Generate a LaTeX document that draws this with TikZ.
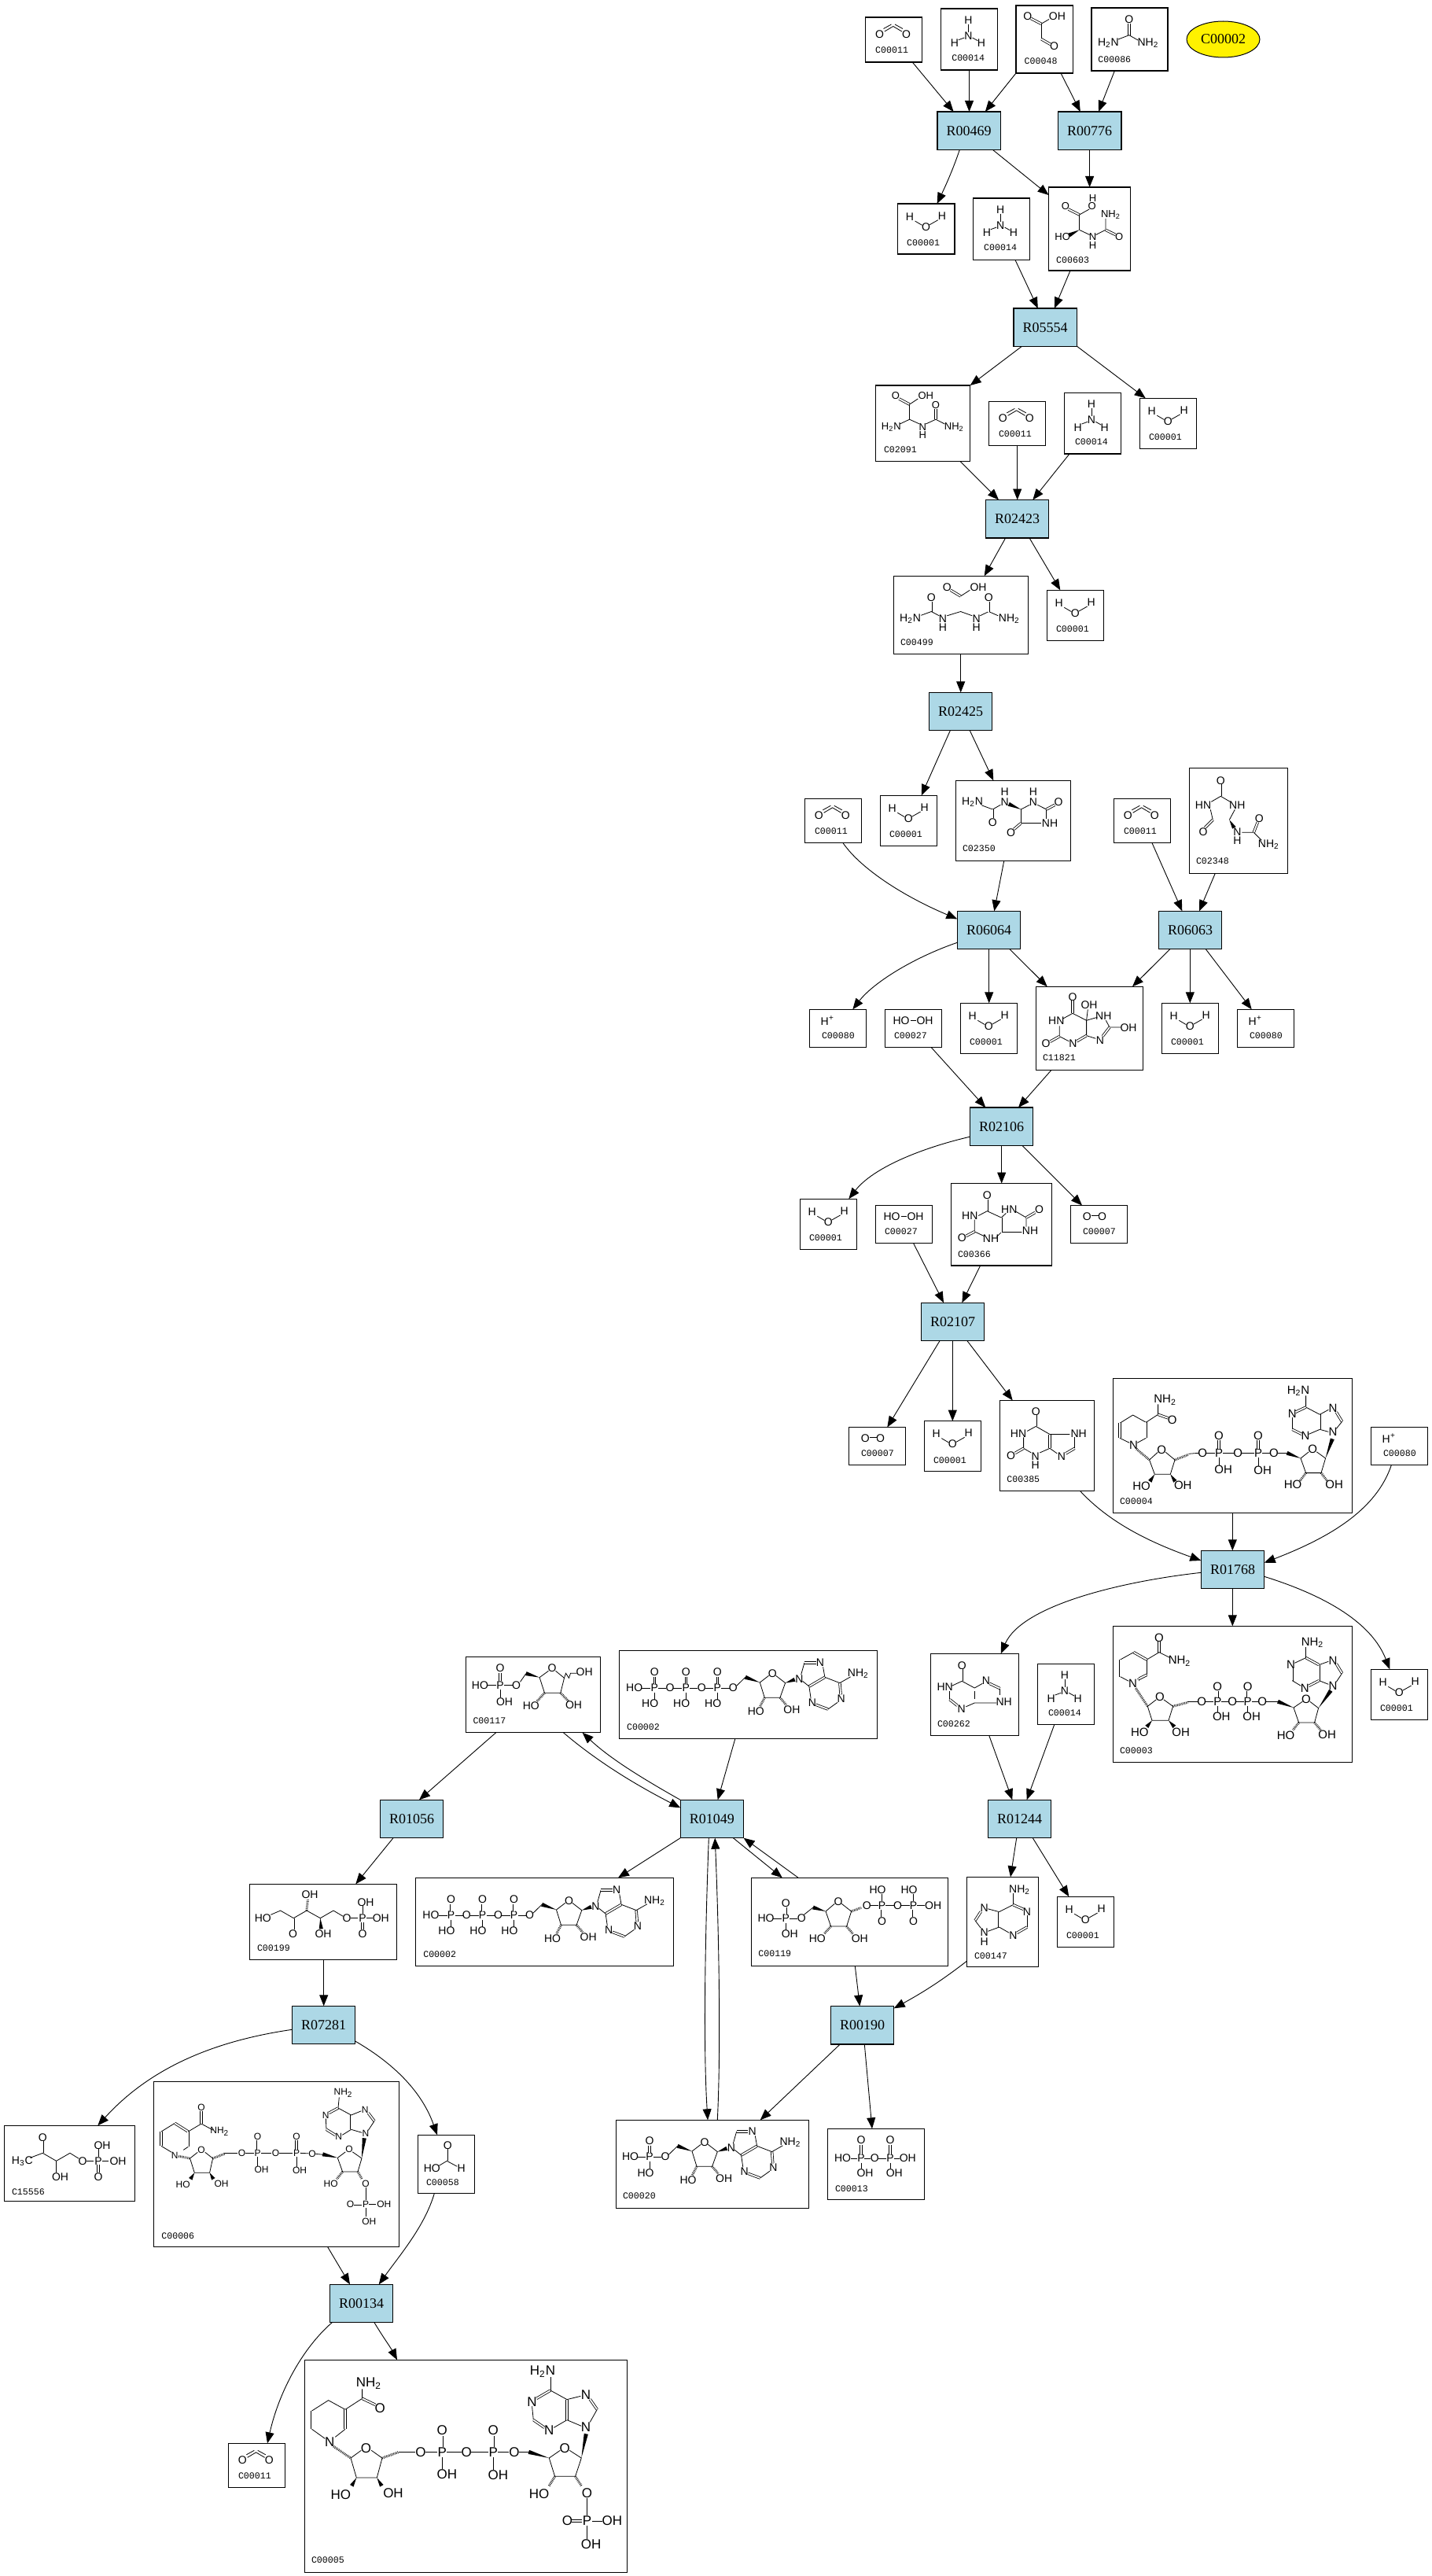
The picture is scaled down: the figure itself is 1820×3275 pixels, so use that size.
\documentclass[tikz,border=0pt]{standalone}
\usepackage{fontspec}
\setmainfont{Liberation Serif}
\setsansfont{Liberation Sans}
\newfontfamily\codef{Liberation Mono}
\usetikzlibrary{arrows.meta,calc,shapes.geometric}
\newcount\atomc
\newcommand\asize[1]{\def\afont{\fontsize{#1}{#1}\selectfont\sffamily}}
\asize{7}
\def\mg{5.5}
\tikzset{
  cbox/.style={draw=black,line width=.65pt,fill=white,inner sep=0pt,outer sep=0pt},
  rbox/.style={draw=black,line width=.65pt,fill=rcol,inner sep=0pt,outer sep=0pt,minimum width=40.2pt,minimum height=24.2pt,font=\fontsize{9}{9}\selectfont},
  edge/.style={draw=black,line width=.45pt,-{Stealth[inset=0pt,length=7pt,width=5.5pt]}},
  atom/.style={inner sep=0pt,font=\afont},
  codel/.style={inner sep=0pt,anchor=west,font=\codef\fontsize{5.8}{5.8}\selectfont},
  bond/.style={draw=black,line width=.4pt},
  dbond/.style={draw=black,line width=.4pt,double=white,double distance=.9pt},
  hashb/.style={draw=black,line width=1.5pt,dash pattern=on .35pt off .6pt},
}
\definecolor{rcol}{HTML}{ADD8E6}
\newcommand\mAt[3]{\global\advance\atomc 1 \node[atom] (at\the\atomc) at ({#1},{#2}) {#3};}
\newcommand\mL[3]{\global\advance\atomc 1 \node[codel] (at\the\atomc) at (#1,#2) {#3};}
\newcommand\mB[1]{\draw[bond] #1;}
\newcommand\mD[1]{\draw[dbond] #1;}
\newcommand\mH[1]{\draw[hashb] #1;}
\newcommand\mW[4]{\fill[black] (#1,#2) -- ($(#3,#4)!1.3pt!90:(#1,#2)$) -- ($(#3,#4)!1.3pt!-90:(#1,#2)$) -- cycle;}
\newcommand\mPh[6]{\mAt{#1}{#2}{P}\mAt{#1}{#2-#3}{O}\mD{({#1},{#2-#3+\mg})--({#1},{#2-\mg})}\mAt{#1+#5}{#2+#4}{#6}\mB{({#1},{#2+\mg})--({#1},{#2+#4-\mg})}}
\newcommand\two{\textsubscript{2}}
% small molecules
\newcommand\mWater{\mL{11.3}{49.7}{C00001}\mAt{15.3}{16.3}{H}\mAt{56.3}{15.3}{H}\mAt{36}{29.3}{O}\mB{(22,22)--(31,27.3)}\mB{(40.7,26.7)--(51.3,20.7)}}
\newcommand\mCOO{\mL{12.3}{41.7}{C00011}\mAt{18}{21.7}{O}\mAt{52}{21.7}{O}\mB{(24.3,18)--(35.3,11.5)--(46.3,18)}\mB{(23,14.5)--(33,9)}\mB{(37.5,9)--(47.5,14.5)}}
\newcommand\mNH{\mL{13.3}{62.7}{C00014}\mAt{34.7}{14.7}{H}\mAt{34.7}{34.7}{N}\mAt{17.3}{44}{H}\mAt{51.3}{44}{H}\mB{(34.7,19.7)--(34.7,29.7)}\mB{(22.3,39.7)--(29.7,37)}\mB{(40,37)--(46.7,40.7)}}
\newcommand\mHp{\mL{15.3}{33.3}{C00080}\mAt{19.3}{15.7}{H}\node[atom,font=\sffamily\fontsize{5}{5}\selectfont] (at\the\atomc p) at (27.7,11.7) {+};}
\newcommand\mHOOH{\mL{11.3}{33.2}{C00027}\mAt{20.7}{14.2}{HO}\mAt{50.7}{14.2}{OH}\mB{(33,14.2)--(40,14.2)}}
\newcommand\mOO{\mL{15.3}{33.2}{C00007}\mAt{21}{14.2}{O}\mAt{40.3}{14.2}{O}\mD{(26.3,14.2)--(35.3,14.2)}}
\newcommand\mGlx{\mL{10.3}{70.7}{C00048}\mAt{14.9}{13.3}{O}\mAt{52.4}{13.3}{OH}\mAt{48.6}{52}{O}\mD{(19,16.5)--(32.1,23.3)}\mB{(32.1,23.3)--(42,17.5)}\mB{(32.1,23.3)--(32.1,42.7)}\mD{(32.1,42.7)--(44,49.5)}}
\newcommand\mUrea{\mL{8}{65.7}{C00086}\mAt{47.8}{14.7}{O}\mAt{21.4}{44.7}{H\two N}\mAt{72}{44.7}{NH\two}\mD{(47.8,20)--(47.8,34.7)}\mB{(34,40)--(47.8,34.7)--(59,41)}}
\newcommand\mCsix{\asize{6.5}\mL{9.2}{92.7}{C00603}\mAt{55.9}{14}{H}\mAt{55.1}{24.3}{O}\mAt{21.4}{24.3}{O}\mAt{78.8}{35}{NH\two}\mAt{89.5}{62.7}{O}\mAt{17.6}{63.3}{HO}\mAt{55.9}{63.3}{N}\mAt{55.9}{74.3}{H}\mD{(25,28)--(39,35)}\mB{(39,35)--(51.5,28)}\mB{(39,35)--(39,54.3)}\mW{39}{54.3}{26}{61}\mB{(39,54.3)--(52,60.5)}\mB{(60,60.5)--(72.3,54.3)--(72.3,40)}\mD{(72.3,54.3)--(85,60.5)}}
\newcommand\mCtwoOneNine{\asize{6.5}\mL{10.3}{81.9}{C02091}\mAt{25.7}{13.4}{O}\mAt{64}{13.4}{OH}\mAt{76.7}{24.9}{O}\mAt{20}{52.8}{H\two N}\mAt{60}{52.8}{N}\mAt{60}{63.5}{H}\mAt{100}{52.8}{NH\two}\mD{(30,17)--(43.3,24.1)}\mB{(43.3,24.1)--(54,17)}\mB{(43.3,24.1)--(43.3,43.2)}\mB{(31,49)--(43.3,43.2)--(56,49)}\mB{(64,49)--(76.7,43.2)--(88,49)}\mD{(76.7,43.2)--(76.7,29.5)}}
\newcommand\mCfournine{\mL{8.3}{84.6}{C00499}\mAt{68}{14.5}{O}\mAt{107.7}{14.5}{OH}\mAt{48}{27.6}{O}\mAt{21.3}{54.7}{H\two N}\mAt{62.7}{54.7}{N}\mAt{62.7}{65.8}{H}\mAt{105.3}{54.7}{N}\mAt{105.3}{65.8}{H}\mAt{121}{27.6}{O}\mAt{147}{54.7}{NH\two}\mD{(72.5,18)--(85.3,25.6)}\mB{(85.3,25.6)--(97,18)}\mD{(48,33)--(48,45.2)}\mB{(35,50)--(48,45.2)--(58,50.5)}\mB{(68,50.5)--(85.3,45.2)--(100,50.5)}\mB{(110,50.5)--(121,45.2)--(133,50.5)}\mD{(121,33)--(121,45.2)}}
\newcommand\mCtwothree{\mL{8.3}{86.7}{C02350}\mAt{21.3}{27}{H\two N}\mAt{47}{53.7}{O}\mAt{62.3}{14.3}{H}\mAt{62.3}{27}{N}\mAt{98.7}{14.3}{H}\mAt{98.7}{27}{N}\mAt{130.7}{27.7}{O}\mAt{119.7}{54.3}{NH}\mAt{70.3}{66}{O}\mB{(33,31.5)--(47,36.7)--(57,31)}\mD{(47,36.7)--(47,48)}\mW{83}{36.7}{67.5}{30}\mB{(83,36.7)--(94,31)}\mB{(104,31)--(115.3,36.7)}\mD{(115.3,36.7)--(126,31)}\mB{(115.3,36.7)--(115.3,49)}\mB{(83,54.3)--(109,54.3)}\mB{(83,36.7)--(83,54.3)}\mD{(83,54.3)--(74,62)}}
\newcommand\mCtwofour{\mL{8.3}{118.7}{C02348}\mAt{40}{16}{O}\mAt{17.7}{47.7}{HN}\mAt{61}{47.7}{NH}\mAt{17.7}{81.3}{O}\mAt{61}{81.3}{N}\mAt{61}{92.3}{H}\mAt{89}{64.3}{O}\mAt{101}{97}{NH\two}\mD{(40,21)--(40,36)}\mB{(28,43)--(40,36)--(52,43)}\mB{(27,53)--(30,66)}\mD{(30,66)--(20,76)}\mB{(58,53)--(51,66)}\mW{51}{66}{57}{76}\mB{(67,82)--(82,82)--(92,92)}\mD{(82,82)--(87,69)}}
\newcommand\mConeone{\mL{8.3}{90.7}{C11821}\mAt{46.7}{13}{O}\mAt{67.7}{23.3}{OH}\mAt{86}{37.3}{NH}\mAt{117.7}{52.3}{OH}\mAt{81.7}{68.3}{N}\mAt{47}{72.3}{N}\mAt{12.7}{72.3}{O}\mAt{26}{43.3}{HN}\mD{(46.7,18)--(46.7,34)}\mB{(34,41)--(46.7,34)--(64.3,43)--(64.3,62.3)--(76,66)}\mB{(30,50)--(30,63.3)--(42,69.5)}\mD{(30,63.3)--(18,70)}\mD{(52,69.5)--(64.3,62.3)}\mB{(64.3,43)--(78,39)}\mB{(64.3,43)--(66,29)}\mB{(89,43)--(93.7,51.7)--(108,51.7)}\mD{(93.7,51.7)--(85,63)}}
\newcommand\mCthreesix{\mL{8.3}{89.8}{C00366}\mAt{46}{15.4}{O}\mAt{24}{41.5}{HN}\mAt{74}{33.2}{HN}\mAt{112.3}{33.2}{O}\mAt{100.7}{60}{NH}\mAt{14}{69.2}{O}\mAt{50.7}{70}{NH}\mD{(46,20)--(46,35.2)}\mB{(35,41)--(46,35.2)--(64,43.5)--(70,38)}\mB{(30,46)--(30,61.3)--(42,67)}\mD{(30,61.3)--(19,67)}\mB{(58,68)--(64,62)--(90,62)}\mD{(64,43.5)--(64,62)}\mB{(83,36)--(95.7,43.5)--(95.7,55)}\mD{(95.7,43.5)--(107,37)}}
\newcommand\mCthreeeight{\mL{8.7}{100.4}{C00385}\mAt{46}{14.6}{O}\mAt{23.7}{42.3}{HN}\mAt{14.3}{70}{O}\mAt{45.3}{70.8}{N}\mAt{45.3}{81.8}{H}\mAt{100.3}{42.3}{NH}\mAt{78.7}{70.8}{N}\mD{(46,19)--(46,33)}\mB{(35,39)--(46,33)--(63.7,43.1)--(89,43.1)}\mB{(30.3,47)--(30.3,60.9)--(40,66.5)}\mD{(30.3,60.9)--(19.5,67)}\mB{(51,66.5)--(63.7,60.9)--(73,67.5)}\mD{(63.7,43.1)--(63.7,60.9)}\mD{(84,67.5)--(95.3,60.9)}\mB{(95.3,60.9)--(95.3,47)}}
\newcommand\mCtwosix{\mL{8.3}{89.7}{C00262}\mAt{40}{15}{O}\mAt{18.3}{42.7}{HN}\mAt{39.3}{70.3}{N}\mAt{70.7}{34.3}{N}\mAt{93.3}{61}{NH}\mD{(40,20)--(40,35)}\mB{(27,41)--(40,35)--(56,43.7)--(66,38)}\mB{(24.3,47.5)--(24.3,58.3)}\mD{(24.3,58.3)--(34,66)}\mB{(45,67.5)--(56,62.7)--(84,62.7)}\mB{(56,48)--(56,58)}\mD{(75,38)--(88.3,44.3)}\mB{(88.3,44.3)--(88.3,53)}}
\newcommand\mAden{\mL{9.3}{100.3}{C00147}\mAt{67.3}{16}{NH\two}\mAt{76.7}{44.3}{N}\mAt{59}{74.3}{N}\mAt{22.3}{39.3}{N}\mAt{22.3}{70.3}{N}\mAt{22.3}{82}{H}\mB{(59,21)--(59,35.3)}\mD{(59,35.3)--(72,41)}\mB{(76.7,49)--(76.7,63.7)}\mD{(76.7,63.7)--(64,71)}\mB{(54,71)--(41.3,63.7)}\mD{(41.3,63.7)--(41.3,44.3)}\mB{(41.3,44.3)--(59,35.3)}\mB{(41.3,44.3)--(27,40.5)}\mD{(18,44)--(10.7,55.3)}\mB{(10.7,55.3)--(18,65)}\mB{(27,69)--(41.3,63.7)}}
\newcommand\mPPi{\mL{9.3}{76.3}{C00013}\mAt{19.3}{37.7}{HO}\mAt{60}{37.7}{O}\mAt{102}{37.7}{OH}\mPh{42.7}{37.7}{23}{18.6}{5}{OH}\mPh{79.7}{37.7}{23}{18.6}{5.3}{OH}\mB{(30,37.7)--(38,37.7)}\mB{(47,37.7)--(55,37.7)}\mB{(65,37.7)--(75,37.7)}\mB{(85,37.7)--(92,37.7)}}
\newcommand\mForm{\mL{10.3}{60.7}{C00058}\mAt{38}{13}{O}\mAt{18}{42.3}{HO}\mAt{55.3}{42.3}{H}\mD{(37,18)--(37,33)}\mB{(27,39)--(37,33)--(50,40)}}
\newcommand\mRu{\mL{9.3}{81.7}{C00199}\mAt{76.7}{13.3}{OH}\mAt{17}{43.3}{HO}\mAt{55.3}{63.3}{O}\mAt{93.7}{63.3}{OH}\mAt{123.7}{43.3}{O}\mAt{143.7}{43.3}{P}\mAt{147.7}{23.3}{OH}\mAt{167}{43.3}{OH}\mAt{143.7}{63.3}{O}\mB{(27,39)--(39.3,33.7)--(56,43.3)--(72.7,33.7)--(90,43.3)--(106.7,33.7)--(119,41)}\mD{(56,43.3)--(56,58)}\mH{(72.7,33.7)--(74,20)}\mW{90}{43.3}{91}{57}\mB{(129,43.3)--(138,43.3)}\mB{(143.7,28)--(143.7,38)}\mB{(149,43.3)--(157,43.3)}\mD{(143.7,49)--(143.7,58)}}
\newcommand\mBut{\mL{9.3}{84.7}{C15556}\mAt{49}{15}{O}\mAt{23}{45}{H\textsubscript{3}C}\mAt{71.3}{65}{OH}\mAt{99.7}{45}{O}\mAt{119.7}{45}{P}\mAt{124.7}{25}{OH}\mAt{144.7}{45}{OH}\mAt{119.7}{65}{O}\mD{(49,20)--(49,35)}\mB{(33,41)--(49,35)--(66.3,45)--(83.7,35)--(95,42)}\mB{(66.3,45)--(66.3,60)}\mB{(105,45)--(114,45)}\mB{(119.7,30)--(119.7,40)}\mB{(125,45)--(133,45)}\mD{(119.7,50)--(119.7,60)}}
\newcommand\mRfp{\mL{8.6}{81.3}{C00117}\mAt{17.9}{36}{HO}\mAt{64}{36}{O}\mPh{43.6}{36}{21.3}{21}{5.4}{OH}\mAt{109.6}{14.7}{O}\mAt{150.7}{19.7}{OH}\mAt{82.8}{62}{HO}\mAt{137}{61}{OH}\mB{(27,36)--(38.5,36)}\mB{(48.5,36)--(59,36)}\mB{(69,32)--(76.4,21.3)}\mW{93.6}{26.3}{76.4}{21.3}\mB{(93.6,26.3)--(105,18)}\mB{(114,18)--(125,27)--(120.3,46)--(100,46)--(93.6,26.3)}\mB{(125,27)--(127,21)--(131,27)--(133,21)--(141,21)}\mH{(100,46)--(90,57)}\mH{(120.3,46)--(130,56)}}
% adenosine fragment in AMP coordinates
\newcommand\mAdo{\mAt{112.7}{28}{O}\mAt{91.7}{76.7}{HO}\mAt{137.3}{74.7}{OH}\mAt{146.7}{35.3}{N}\mAt{173.3}{14.7}{N}\mAt{163.3}{65.7}{N}\mAt{200}{60.7}{N}\mAt{221.7}{28.7}{NH\two}\mB{(67,44)--(78.3,33)}\mW{96.7}{39.7}{78.3}{33}\mB{(96.7,39.7)--(108,31)}\mB{(117,31)--(129,40.3)--(122.3,59)--(102.7,59)--(96.7,39.7)}\mW{129}{40.3}{141}{36}\mH{(102.7,59)--(97,70)}\mH{(122.3,59)--(130,68)}\mB{(149,30)--(153.3,14.7)}\mD{(153.3,14.7)--(168,14.7)}\mB{(177,20)--(179.3,33)}\mD{(179.3,33)--(159.3,44.7)}\mB{(151,38)--(159.3,44.7)--(161.5,60)}\mD{(168,68)--(183.3,73.7)}\mB{(183.3,73.7)--(195.5,65)}\mD{(199.5,55)--(198.3,40.3)}\mB{(179.3,33)--(198.3,40.3)--(212,32.5)}}
\newcommand\mATP{\mL{9.3}{97.7}{C00002}\mAt{19.3}{47.7}{HO}\mB{(29,47.7)--(40,47.7)}\mPh{45}{47.7}{20}{20}{-5.7}{HO}\mB{(50,47.7)--(60,47.7)}\mAt{64.6}{47.7}{O}\mB{(69,47.7)--(80,47.7)}\mPh{85}{47.7}{20}{20}{-5.7}{HO}\mB{(90,47.7)--(100,47.7)}\mAt{105}{47.7}{O}\mB{(109.5,47.7)--(120,47.7)}\mPh{125}{47.7}{20}{20}{-5.7}{HO}\mB{(130,47.7)--(140.5,47.7)}\mAt{145}{47.7}{O}\begin{scope}[shift={(82.2,1)}]\mAdo\end{scope}}
\newcommand\mAMP{\mL{8.3}{96.7}{C00020}\mAt{18.3}{46.7}{HO}\mB{(28,46.7)--(38,46.7)}\mPh{42.7}{46.7}{20}{20.3}{-5}{HO}\mB{(48,46.7)--(58,46.7)}\mAt{62.7}{46.7}{O}\mAdo}
\newcommand\mPRPP{\mL{8.7}{96.7}{C00119}\mAt{18.7}{51.7}{HO}\mB{(28,51.7)--(39,51.7)}\mPh{44}{51.7}{19.7}{20}{5}{OH}\mB{(49,51.7)--(59,51.7)}\mAt{64}{51.7}{O}\mB{(67,47)--(78.7,37.7)}\mW{94.7}{42.7}{78.7}{37.7}\mAt{110.7}{30}{O}\mB{(94.7,42.7)--(106,33)}\mB{(115,33)--(127.3,42.7)--(121.3,61.7)--(101.3,61.7)--(94.7,42.7)}\mAt{84}{77}{HO}\mAt{138}{77}{OH}\mH{(101.3,61.7)--(93,71)}\mH{(121.3,61.7)--(129,71)}\mH{(127.3,42.7)--(140,38)}\mAt{147}{35.3}{O}\mB{(152,35.3)--(161.5,35.3)}\mAt{166.3}{35.3}{P}\mAt{160.7}{15}{HO}\mB{(166.3,21)--(166.3,30)}\mAt{166.3}{55.3}{O}\mD{(166.3,41)--(166.3,50)}\mB{(171,35.3)--(181.5,35.3)}\mAt{186.3}{35.3}{O}\mB{(191,35.3)--(201.5,35.3)}\mAt{206.3}{35.3}{P}\mAt{200.7}{15}{HO}\mB{(206.3,21)--(206.3,30)}\mAt{206.3}{55.3}{O}\mD{(206.3,41)--(206.3,50)}\mB{(211,35.3)--(221,35.3)}\mAt{231.3}{35.3}{OH}}
\newcommand\mNADH{\asize{7.5}\mL{8.3}{156.7}{C00004}\mAt{66.3}{27.7}{NH\two}\mAt{75.3}{52.7}{O}\mAt{26.3}{85}{N}\mB{(42,56)--(25.3,46.7)--(8.7,57)}\mD{(8.7,57)--(8.7,76)}\mB{(8.7,76)--(21,82)}\mB{(31,82)--(42,76)}\mD{(42,76)--(42,56)}\mB{(42,56)--(57.3,46)--(57.3,33)}\mD{(57.3,46)--(70,50.5)}\mH{(30,90)--(46.3,103.7)}\mAt{62}{91}{O}\mB{(46.3,103.7)--(57,94)}\mB{(67,94)--(78.7,103.7)--(73,122)--(53,122)--(46.3,103.7)}\mAt{36.3}{137}{HO}\mAt{89}{136}{OH}\mW{53}{122}{47}{131}\mW{73}{122}{79}{131}\mH{(78.7,103.7)--(96,97)}\mB{(96,96)--(109,95)}\mAt{114}{95}{O}\mB{(119,95)--(129.5,95)}\mPh{134.7}{95}{21.7}{21}{5.6}{OH}\mB{(140,95)--(154,95)}\mAt{159}{95}{O}\mB{(164,95)--(179.5,95)}\mPh{184.7}{95}{21.7}{21.7}{5.6}{OH}\mB{(190,95)--(199.5,95)}\mAt{204.7}{95}{O}\mB{(209.5,95)--(221.3,95)}\mW{238.7}{101.7}{221.3}{95}\mAt{254}{90.3}{O}\mB{(238.7,101.7)--(249,93.5)}\mB{(259,93.5)--(270.3,101.7)--(264.7,120.3)--(245.3,120.3)--(238.7,101.7)}\mAt{228.7}{135}{HO}\mAt{281.3}{135}{OH}\mH{(245.3,120.3)--(238,130)}\mH{(264.7,120.3)--(272,130)}\mW{270.3}{101.7}{279}{77}\mAt{279.7}{68.3}{N}\mAt{279.7}{38.3}{N}\mAt{228}{45.3}{N}\mAt{244.7}{73.3}{N}\mAt{235.7}{16}{H\two N}\mB{(274,68)--(263,65)}\mD{(263,65)--(263,46)}\mB{(263,46)--(274,40)}\mD{(284,43)--(291.3,55)}\mB{(291.3,55)--(284,64)}\mB{(263,46)--(245.3,36.7)--(245.3,22)}\mD{(245.3,36.7)--(232,43)}\mB{(228,50)--(228,65)}\mD{(228,65)--(240,71)}\mB{(249,71)--(263,65)}}
\newcommand\mNAD{\asize{7.5}\mL{8.3}{158.3}{C00003}\mAt{58.7}{15}{O}\mAt{84.7}{44.3}{NH\two}\mAt{25.3}{73.3}{N}\node[atom,font=\sffamily\fontsize{5}{5}\selectfont] (nadplus) at (33.3,68.7) {+};\mD{(58.7,20)--(58.7,33.3)}\mB{(43,42.7)--(58.7,33.3)--(72,40)}\mD{(43,42.7)--(26.3,33.3)}\mB{(26.3,33.3)--(9.3,42.7)}\mD{(9.3,42.7)--(9.3,64.3)}\mB{(9.3,64.3)--(20,70)}\mD{(43,62)--(33,67)}\mB{(43,42.7)--(43,62)}\mH{(29,79)--(44,102)}\mAt{59.7}{90}{O}\mB{(44,102)--(55,93.5)}\mB{(64.5,93.5)--(76.3,102)--(70.7,120)--(49.7,120)--(44,102)}\mAt{34}{135}{HO}\mAt{86.3}{135}{OH}\mW{49.7}{120}{43}{128}\mW{70.7}{120}{78}{128}\mH{(76.3,102)--(95,97)}\mB{(95,96)--(108,96)}\mAt{113}{96}{O}\mB{(118,96)--(128,96)}\mPh{133}{96}{19}{19}{5}{OH}\mB{(138,96)--(147,96)}\mAt{152}{96}{O}\mB{(157,96)--(166.3,96)}\mPh{171.3}{96}{19}{19}{5}{OH}\mB{(176.3,96)--(185,96)}\mAt{190}{96}{O}\mB{(195,96)--(209.7,96)}\mW{229.7}{103.7}{209.7}{96}\mAt{245.7}{93.3}{O}\mB{(229.7,103.7)--(241,96)}\mB{(250.5,96)--(261.3,104.3)--(256.3,122.7)--(236.3,122.7)--(229.7,103.7)}\mAt{219.7}{138.7}{HO}\mAt{272.3}{137.7}{OH}\mH{(236.3,122.7)--(229,132)}\mH{(256.3,122.7)--(264,132)}\mW{261.3}{104.3}{277}{82}\mAt{279.7}{76}{N}\mAt{279.7}{43.7}{N}\mAt{226.3}{49.3}{N}\mAt{244}{78.7}{N}\mAt{253.7}{21}{NH\two}\mB{(274,74)--(262,69.3)}\mD{(262,69.3)--(262,49.3)}\mB{(262,49.3)--(274,45)}\mD{(284,48)--(291.3,60)}\mB{(291.3,60)--(284,71)}\mD{(262,49.3)--(245.3,40.3)}\mB{(245.3,40.3)--(245.3,27)}\mB{(245.3,40.3)--(231,47)}\mD{(228,54)--(228,69.3)}\mB{(228,69.3)--(239,76)}\mD{(249,76)--(262,69.3)}}
\newcommand\mNADPH{\asize{8.5}\def\mg{6.5}\mL{8.3}{254.7}{C00005}\mAt{32}{104}{N}\mB{(26,100)--(9.3,88)}\mD{(9.3,88)--(9.3,64.7)}\mB{(9.3,64.7)--(30.3,51.3)--(51.7,63)}\mD{(51.7,63)--(51.7,88)}\mB{(51.7,88)--(39,98)}\mB{(51.7,63)--(73.3,49)--(73.3,37)}\mAt{81.7}{29.7}{NH\two}\mD{(73.3,49)--(90,57)}\mAt{96}{61.3}{O}\mH{(37,110)--(58.7,124.7)}\mAt{78.3}{112}{O}\mB{(58.7,124.7)--(72,115)}\mB{(85,115)--(98.7,124.7)--(92,149.7)--(66,149.7)--(58.7,124.7)}\mAt{46}{171.3}{HO}\mAt{112.7}{169.7}{OH}\mW{66}{149.7}{60}{160}\mW{92}{149.7}{98}{160}\mH{(98.7,124.7)--(120,117)}\mB{(120,117.3)--(141,117.3)}\mAt{147.7}{117.3}{O}\mB{(154,117.3)--(169,117.3)}\mPh{175}{117.3}{27.6}{28}{6}{OH}\mB{(181,117.3)--(200,117.3)}\mAt{206}{117.3}{O}\mB{(212,117.3)--(234,117.3)}\mPh{240}{117.3}{27.6}{29}{6}{OH}\mB{(246,117.3)--(260,117.3)}\mAt{266.7}{117.3}{O}\mB{(273,117.3)--(287,117.3)}\mW{311}{124.7}{285}{117}\mAt{331}{112}{O}\mB{(311,124.7)--(325,115)}\mB{(337,115)--(352,124.7)--(344.3,148)--(318.3,148)--(311,124.7)}\mAt{298.3}{170.3}{HO}\mH{(318.3,148)--(311,160)}\mH{(344.3,148)--(352,160)}\mW{352}{124.7}{358}{94}\mAt{302.7}{14.7}{H\two N}\mAt{289.3}{53}{N}\mAt{311}{89.7}{N}\mAt{357.7}{44.7}{N}\mAt{357.7}{85.7}{N}\mB{(312.7,38.7)--(312.7,22)}\mD{(312.7,38.7)--(295,49)}\mB{(289.3,59)--(291,76.3)}\mD{(291,76.3)--(305,86)}\mB{(317,86)--(333.7,76.3)}\mD{(333.7,76.3)--(333.7,50.3)}\mB{(312.7,38.7)--(333.7,50.3)--(351,46)}\mD{(363,50)--(372,63)}\mB{(372,63)--(363,79)}\mB{(352,84)--(333.7,76.3)}\mAt{359.3}{169.7}{O}\mB{(359.3,176)--(359.3,198)}\mAt{359.3}{204.7}{P}\mAt{334.3}{204.7}{O}\mD{(340,204.7)--(353,204.7)}\mB{(366,204.7)--(379,204.7)}\mAt{391}{204.7}{OH}\mB{(359.3,211)--(359.3,228)}\mAt{364.3}{234.7}{OH}}
\newcommand\mNADP{\asize{6}\def\mg{4.5}\mL{9.7}{196.7}{C00006}\mAt{27}{93.7}{N}\mB{(23,90)--(9.7,82)}\mD{(9.7,82)--(9.7,63.7)}\mB{(9.7,63.7)--(27,53)}\mD{(27,53)--(44,63.7)}\mD{(44,63.7)--(44,83)}\mB{(44,83)--(38,87)}\mB{(44,63.7)--(60.7,53.7)--(76,62)}\mD{(60.7,53.7)--(60.7,38)}\mAt{60.7}{33}{O}\mAt{84}{63.7}{NH\two}\mH{(32,95)--(46.3,97.7)}\mAt{60.7}{87}{O}\mB{(46.3,97.7)--(56,90)}\mB{(65.5,90)--(75.3,97.7)--(71.3,116)--(52,116)--(46.3,97.7)}\mAt{37.3}{131}{HO}\mAt{86.3}{130.3}{OH}\mW{52}{116}{47}{124}\mW{71.3}{116}{76}{124}\mH{(75.3,97.7)--(90,92)}\mB{(90,91)--(107,91)}\mAt{112.3}{91}{O}\mB{(117,91)--(127.5,91)}\mPh{132.3}{91}{20.7}{21}{5}{OH}\mB{(137,91)--(150,91)}\mAt{155.3}{91}{O}\mB{(160,91)--(177,91)}\mPh{181.7}{91}{20.7}{22}{4}{OH}\mB{(186.5,91)--(197,91.5)}\mAt{201.7}{92}{O}\mB{(206,92)--(216,93)}\mW{234}{97}{215}{92.5}\mAt{248.7}{86.3}{O}\mB{(234,97)--(244,89.5)}\mB{(253,89.5)--(264.7,97.7)--(259.7,114.7)--(240.3,114.7)--(234,97)}\mAt{225.3}{130.3}{HO}\mH{(240.3,114.7)--(233,124)}\mH{(259.7,114.7)--(265,124)}\mW{264.7}{97.7}{268}{72}\mAt{241.3}{14.7}{NH\two}\mAt{219}{42.7}{N}\mAt{235.3}{70.3}{N}\mAt{269}{36}{N}\mAt{269.7}{66.3}{N}\mB{(234.7,33.7)--(236,20)}\mD{(234.7,33.7)--(223,40)}\mB{(219,47)--(219.7,61)}\mD{(219.7,61)--(231,68)}\mB{(240,68)--(251.3,61)}\mD{(251.3,61)--(251.3,42.7)}\mB{(234.7,33.7)--(251.3,42.7)--(264,37.5)}\mD{(273,40)--(280.7,50.3)}\mB{(280.7,50.3)--(273,62)}\mB{(265,65)--(251.3,61)}\mAt{269.7}{130.3}{O}\mB{(269.7,135)--(269.7,151)}\mAt{269.7}{156}{P}\mAt{250.3}{156}{O}\mD{(255,156)--(265,156)}\mB{(274,156)--(283,156)}\mAt{293}{156}{OH}\mB{(269.7,161)--(269.7,172)}\mAt{274}{178}{OH}}
% graph helpers
\newcommand\Cpd[6]{\node[cbox,minimum width={(#4-#2)*.5pt},minimum height={(#5-#3)*.5pt}] (#1) at ({(#2+#4)/2},{(#3+#5)/2}) {};\begin{scope}[shift={(#2,#3)}]#6\end{scope}}
\newcommand\Rx[3]{\node[rbox] (#1) at ({#2+40.2},{#3+24.2}) {#1};}
\newcommand\EE[4]{\draw[edge] (#1.south -| #2,0) -- (#3.north -| #4,0);}
\begin{document}
\begin{tikzpicture}[x=.5pt,y=-.5pt]
\path[use as bounding box] (0,0) rectangle (1820,3275);
\Cpd{C00011a}{1100.5}{22}{1172.5}{79}{\mCOO}
\Cpd{C00014a}{1196.6}{11}{1268.5}{89}{\mNH}
\Cpd{C00048}{1292}{7}{1364.6}{93}{\mGlx}
\Cpd{C00086}{1388}{10}{1485}{90}{\mUrea}
\node[draw=black,line width=.5pt,fill=yellow,ellipse,inner sep=0pt,minimum width=46.5pt,minimum height=23pt,font=\fontsize{9}{9}\selectfont] (C00002y) at (1555.5,50) {C00002};
\Rx{R00469}{1192}{142}
\Rx{R00776}{1345.5}{142}
\Cpd{C00001a}{1141.5}{259}{1214}{323}{\mWater}
\Cpd{C00014b}{1237.5}{252}{1309.5}{330.5}{\mNH}
\Cpd{C00603}{1333.6}{238}{1437.7}{344}{\mCsix}
\Rx{R05554}{1289}{392}
\Cpd{C02091}{1113.3}{490}{1233.7}{586.5}{\mCtwoOneNine}
\Cpd{C00011b}{1257.3}{510.4}{1329.7}{566.5}{\mCOO}
\Cpd{C00014c}{1353.3}{499.3}{1425.7}{577}{\mNH}
\Cpd{C00001b}{1449.3}{506.2}{1521.7}{570.5}{\mWater}
\Rx{R02423}{1253.3}{635.5}
\Cpd{C00499}{1136.3}{732.3}{1307.7}{831.8}{\mCfournine}
\Cpd{C00001c}{1331.3}{750.3}{1403.7}{814.6}{\mWater}
\Rx{R02425}{1181.3}{880.4}
\Cpd{C00011c}{1023.3}{1015.3}{1095.7}{1071.7}{\mCOO}
\Cpd{C00001d}{1119.3}{1011.3}{1191.7}{1075.7}{\mWater}
\Cpd{C02350}{1215.3}{992.3}{1361.7}{1094.7}{\mCtwothree}
\Cpd{C00011d}{1416.3}{1015.3}{1488.7}{1071.7}{\mCOO}
\Cpd{C02348}{1512.3}{976.3}{1637.7}{1110.3}{\mCtwofour}
\Rx{R06064}{1217.3}{1158.3}
\Rx{R06063}{1473.3}{1158.3}
\Cpd{C00080a}{1029.3}{1283.3}{1101.7}{1331.7}{\mHp}
\Cpd{C00027a}{1125.3}{1283.3}{1197.7}{1331.7}{\mHOOH}
\Cpd{C00001e}{1221.3}{1275.3}{1293.7}{1339.3}{\mWater}
\Cpd{C11821}{1317.3}{1254.3}{1453.7}{1360.7}{\mConeone}
\Cpd{C00001f}{1477.3}{1275.3}{1549.7}{1339.3}{\mWater}
\Cpd{C00080b}{1573.3}{1283.3}{1645.7}{1331.7}{\mHp}
\Rx{R02106}{1233.3}{1408}
\Cpd{C00001g}{1017.3}{1524.2}{1089.7}{1588.3}{\mWater}
\Cpd{C00027b}{1113.3}{1532.5}{1185.7}{1580.8}{\mHOOH}
\Cpd{C00366}{1209.3}{1504.5}{1337.7}{1608.9}{\mCthreesix}
\Cpd{C00007a}{1361.3}{1532.5}{1433.7}{1580.8}{\mOO}
\Rx{R02107}{1171.3}{1656.3}
\Cpd{C00007b}{1079.3}{1814.5}{1151.7}{1862.7}{\mOO}
\Cpd{C00001h}{1175.3}{1806.6}{1247.7}{1870.6}{\mWater}
\Cpd{C00385}{1271.3}{1780.4}{1391.7}{1895.3}{\mCthreeeight}
\Cpd{C00004}{1415.3}{1752.3}{1719.7}{1923.3}{\mNADH}
\Cpd{C00080c}{1743.3}{1814.3}{1815.7}{1862.7}{\mHp}
\Rx{R01768}{1527.3}{1971.3}
\Cpd{C00262}{1183.3}{2102.3}{1295.7}{2206.3}{\mCtwosix}
\Cpd{C00014d}{1319.3}{2115.3}{1391.7}{2192.7}{\mNH}
\Cpd{C00003}{1415.3}{2067.3}{1719.7}{2240.3}{\mNAD}
\Cpd{C00001i}{1743.3}{2122.3}{1815.7}{2186.3}{\mWater}
\Cpd{C00117}{592.5}{2106.3}{763.5}{2202.7}{\mRfp}
\Cpd{C00002b}{787.4}{2098.3}{1115.5}{2210.3}{\mATP}
\Rx{R01049}{865.2}{2288.3}
\Rx{R01244}{1256.3}{2288.3}
\Rx{R01056}{483.3}{2288.3}
\Cpd{C00002c}{528.6}{2387.3}{856.7}{2499.3}{\mATP}
\Cpd{C00119}{955.3}{2387.3}{1205.7}{2499.3}{\mPRPP}
\Cpd{C00147}{1229.3}{2386.3}{1320.7}{2500.7}{\mAden}
\Cpd{C00001j}{1344.3}{2411.3}{1416.7}{2475.3}{\mWater}
\Cpd{C00199}{317.3}{2395.3}{504.7}{2491.3}{\mRu}
\Rx{R07281}{371.3}{2550.3}
\Rx{R00190}{1056.3}{2550.5}
\Cpd{C15556}{5.3}{2702.3}{171.7}{2798.7}{\mBut}
\Cpd{C00006}{195.3}{2646.3}{507.7}{2856.7}{\mNADP}
\Cpd{C00058}{531.3}{2714.3}{603.7}{2788.7}{\mForm}
\Cpd{C00020}{783.3}{2695.3}{1028.7}{2807.3}{\mAMP}
\Cpd{C00013}{1052.3}{2706.3}{1175.7}{2796.3}{\mPPi}
\Rx{R00134}{419.3}{2904.3}
\Cpd{C00011e}{290.3}{3106.3}{362.7}{3162.7}{\mCOO}
\Cpd{C00005}{387.3}{3000.3}{797.7}{3270.7}{\mNADPH}
% connectors
\EE{C00011a}{1160.2}{R00469}{1212.6}
\EE{C00014a}{1232.5}{R00469}{1232.5}
\EE{C00048}{1292}{R00469}{1252.8}
\EE{C00048}{1349}{R00776}{1373.8}
\EE{C00086}{1417.4}{R00776}{1397}
\EE{R00776}{1385.6}{C00603}{1385.6}
\draw[edge] (R00469.south -| 1220.3,0) .. controls (1212,215) and (1203,235) .. (C00001a.north -| 1191.6,0);
\draw[edge] (R00469.south -| 1262.4,0) -- (C00603.west |- 0,248);
\EE{C00014b}{1291}{R05554}{1319.8}
\EE{C00603}{1361}{R05554}{1340.9}
\EE{R05554}{1299.3}{C02091}{1233.7}
\EE{R05554}{1369.7}{C00001b}{1456.7}
\EE{C02091}{1221}{R02423}{1270}
\EE{C00011b}{1293.7}{R02423}{1293.7}
\EE{C00014c}{1360}{R02423}{1313.3}
\EE{R02423}{1278.7}{C00499}{1251.7}
\EE{R02423}{1309}{C00001c}{1348.3}
\EE{C00499}{1221.7}{R02425}{1221.7}
\EE{R02425}{1208.3}{C00001d}{1171.7}
\EE{R02425}{1233.3}{C02350}{1263.3}
\EE{C02350}{1276.7}{R06064}{1264.3}
\EE{C00011d}{1465}{R06063}{1503.3}
\EE{C02348}{1545.3}{R06063}{1525}
\draw[edge] (C00011c.south -| 1072,0) .. controls (1095,1105) and (1150,1140) .. (R06064.west |- 0,1168.3);
\draw[edge] (R06064.west |- 0,1198.3) .. controls (1160,1218) and (1110,1250) .. (C00080a.north -| 1084.3,0);
\EE{R06064}{1257.7}{C00001e}{1257.7}
\EE{R06064}{1284}{C11821}{1331.7}
\EE{R06063}{1487.7}{C11821}{1440}
\EE{R06063}{1513.3}{C00001f}{1513.3}
\EE{R06063}{1533.3}{C00080b}{1591.7}
\EE{C00027a}{1184.3}{R02106}{1253.3}
\EE{C11821}{1336.7}{R02106}{1295}
\draw[edge] (R02106.west |- 0,1445.2) .. controls (1170,1460) and (1110,1485) .. (C00001g.north -| 1079.3,0);
\EE{R02106}{1273.7}{C00366}{1273.7}
\EE{R02106}{1300}{C00007a}{1376}
\EE{C00027b}{1161.7}{R02107}{1200}
\EE{C00366}{1246.7}{R02107}{1223.3}
\EE{R02107}{1195}{C00007b}{1128.3}
\EE{R02107}{1211.3}{C00001h}{1211.3}
\EE{R02107}{1230}{C00385}{1287.7}
\draw[edge] (C00385.south -| 1373.3,0) .. controls (1410,1935) and (1460,1960) .. (R01768.west |- 0,1984);
\EE{C00004}{1567.3}{R01768}{1567.3}
\draw[edge] (C00080c.south -| 1769.3,0) .. controls (1750,1920) and (1690,1955) .. (R01768.east |- 0,1986.7);
\EE{R01768}{1567.3}{C00003}{1567.3}
\draw[edge] (R01768.east |- 0,2004.3) .. controls (1690,2030) and (1745,2065) .. (C00001i.north -| 1767.3,0);
\draw[edge] (R01768.west |- 0,1999.3) .. controls (1430,2010) and (1300,2040) .. (C00262.north -| 1272.7,0);
\EE{C00262}{1257.7}{R01244}{1287.3}
\EE{C00014d}{1340.7}{R01244}{1305.7}
\EE{R01244}{1292.7}{C00147}{1285}
\EE{R01244}{1313.3}{C00001j}{1359.3}
\draw[edge] (C00147.west |- 0,2493.3) .. controls (1195,2520) and (1170,2535) .. (R00190.east |- 0,2553.3);
\EE{C00119}{1087.3}{R00190}{1093.3}
\EE{R00190}{1099.3}{C00013}{1109}
\EE{R00190}{1068.3}{C00020}{966.7}
\draw[edge] (C00117.south -| 716.4,0) .. controls (760,2240) and (810,2270) .. (R01049.west |- 0,2298.3);
\draw[edge] (R01049.west |- 0,2288.3) .. controls (815,2260) and (775,2235) .. (C00117.south -| 740.6,0);
\EE{C00002b}{934.9}{R01049}{912.7}
\EE{R01049}{865.2}{C00002c}{786}
\EE{R01049}{932.4}{C00119}{994.8}
\draw[edge] (C00119.north -| 1015.2,0) -- (R01049.south -| 945.6,0);
\draw[edge] (R01049.south -| 901.3,0) .. controls (897,2450) and (894,2600) .. (C00020.north -| 900,0);
\draw[edge] (C00020.north -| 912.3,0) .. controls (917,2600) and (914,2450) .. (R01049.south -| 909.2,0);
\EE{C00117}{630.7}{R01056}{533}
\EE{R01056}{500}{C00199}{452.3}
\EE{C00199}{411.7}{R07281}{411.7}
\draw[edge] (R07281.west |- 0,2580.3) .. controls (270,2595) and (190,2630) .. (C15556.north -| 124.3,0);
\draw[edge] (R07281.east |- 0,2595) .. controls (495,2620) and (535,2655) .. (C00058.north -| 556,0);
\EE{C00006}{416.7}{R00134}{445}
\draw[edge] (C00058.south -| 552.3,0) .. controls (540,2830) and (510,2865) .. (R00134.north -| 481.7,0);
\draw[edge] (R00134.south -| 422.3,0) .. controls (385,2985) and (355,3040) .. (C00011e.north -| 340,0);
\draw[edge] (R00134.south -| 476,0) .. controls (485,2968) and (497,2985) .. (C00005.north -| 505,0);
\end{tikzpicture}
\end{document}
